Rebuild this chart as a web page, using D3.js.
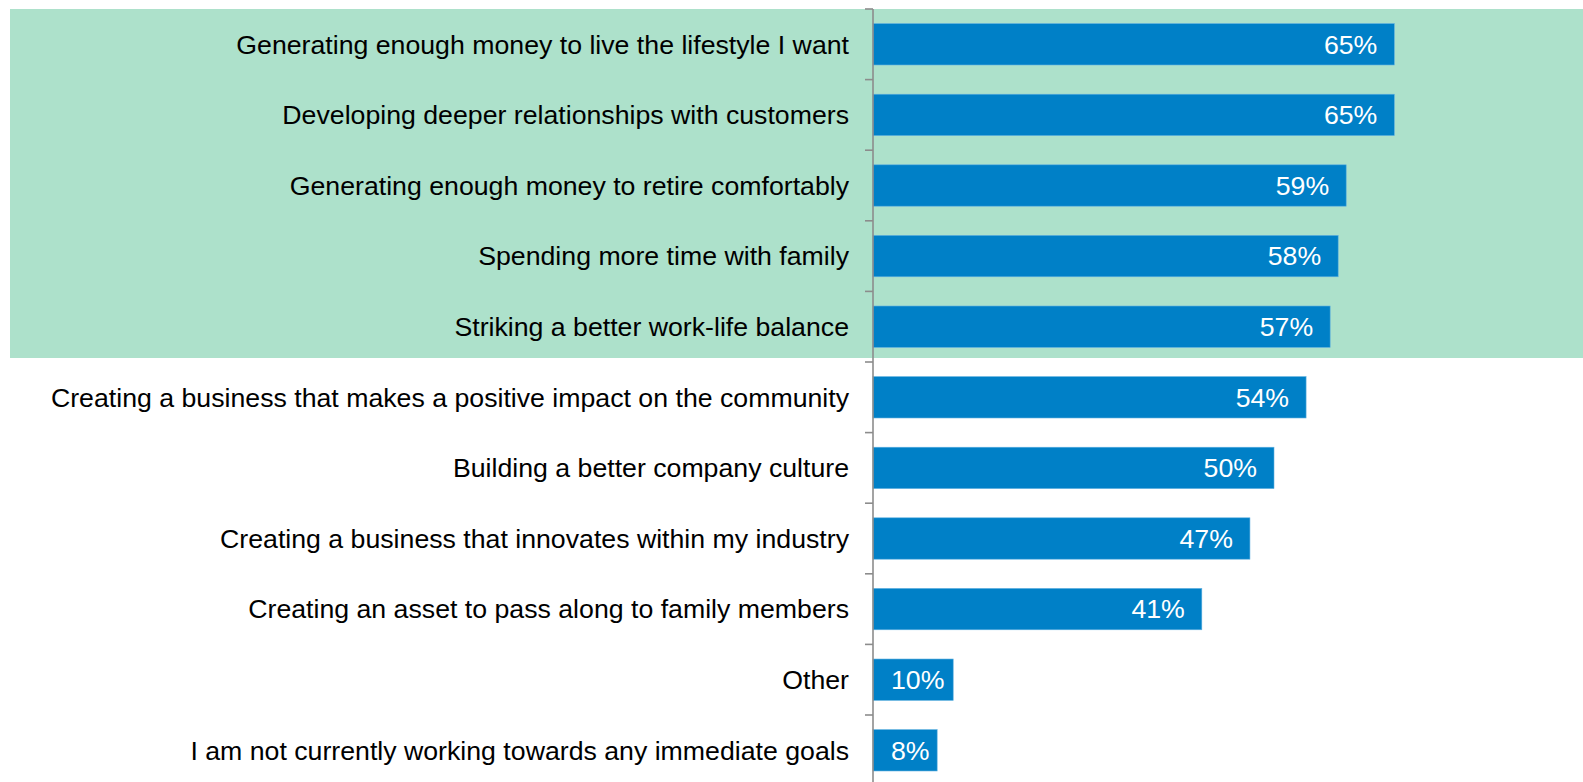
<!DOCTYPE html>
<html>
<head>
<meta charset="utf-8">
<script src="https://cdn.jsdelivr.net/npm/d3@7"></script>
<style>
  html, body { margin: 0; padding: 0; background: #ffffff; }
  svg { display: block; }
</style>
</head>
<body>
<svg id="chart" width="1583" height="782"></svg>
<script>
// Survey responses: goals being worked towards
const categories = [
  "Generating enough money to live the lifestyle I want",
  "Developing deeper relationships with customers",
  "Generating enough money to retire comfortably",
  "Spending more time with family",
  "Striking a better work-life balance",
  "Creating a business that makes a positive impact on the community",
  "Building a better company culture",
  "Creating a business that innovates within my industry",
  "Creating an asset to pass along to family members",
  "Other",
  "I am not currently working towards any immediate goals"
];
const values = [65, 65, 59, 58, 57, 54, 50, 47, 41, 10, 8];
const valueLabels = ["65%", "65%", "59%", "58%", "57%", "54%", "50%", "47%", "41%", "10%", "8%"];
// Top five goals are highlighted
const highlighted = categories.slice(0, 5);

const chartWidth = 1583, chartHeight = 782;
const axisX = 873;
const plotTop = 9, rowStep = 70.6;
const fontSize = "26.7px";

const svg = d3.select("#chart");

const x = d3.scaleLinear().domain([0, 100]).range([axisX, axisX + 802]);
const y = d3.scaleBand()
  .domain(categories)
  .range([plotTop, plotTop + rowStep * categories.length])
  .paddingInner(0.414)
  .paddingOuter(0.207);
// Band layout without padding, used for the tick marks and highlight
const yBand = d3.scaleBand()
  .domain(categories)
  .range([plotTop, plotTop + rowStep * categories.length])
  .padding(0);

// Highlight band behind the top goals
const hlTop = yBand(highlighted[0]);
const hlBottom = yBand(highlighted[highlighted.length - 1]) + yBand.bandwidth() - 4;
svg.append("rect")
  .attr("x", 10)
  .attr("y", hlTop)
  .attr("width", chartWidth - 10)
  .attr("height", hlBottom - hlTop)
  .attr("fill", "#ade1cb");

const font = "'Liberation Sans', Arial, sans-serif";

// Bars
svg.append("g").selectAll("rect")
  .data(values)
  .join("rect")
  .attr("x", x(0))
  .attr("y", (d, i) => y(categories[i]))
  .attr("width", d => x(d) - x(0))
  .attr("height", y.bandwidth())
  .attr("fill", "#0080c7")
  .attr("stroke", "#5fb0e0")
  .attr("stroke-width", 0.6);

// Value labels inside bar ends; short bars keep the label clear of the axis
svg.append("g").selectAll("text")
  .data(values)
  .join("text")
  .attr("y", (d, i) => y(categories[i]) + y.bandwidth() / 2)
  .attr("dy", "0.35em")
  .attr("text-anchor", "start")
  .attr("fill", "#ffffff")
  .style("font-family", font)
  .style("font-size", fontSize)
  .text((d, i) => valueLabels[i])
  .attr("x", function (d) {
    const w = this.getComputedTextLength();
    return Math.max(x(d) - 17 - w, x(0) + 18);
  });

// Category axis
const axis = d3.axisLeft(yBand)
  .tickSize(0)
  .tickFormat("");
const gAxis = svg.append("g")
  .attr("transform", `translate(${axisX},0)`)
  .call(axis);
gAxis.select(".domain").remove();

gAxis.append("line")
  .attr("x1", 0).attr("x2", 0)
  .attr("y1", plotTop).attr("y2", chartHeight)
  .attr("stroke", "#8c8c8c")
  .attr("stroke-width", 1.6);

// Tick marks at category boundaries
const boundaries = categories.map(c => yBand(c)).concat([yBand(categories[categories.length - 1]) + yBand.bandwidth()]);
gAxis.append("g").selectAll("line")
  .data(boundaries)
  .join("line")
  .attr("x1", -8).attr("x2", 0)
  .attr("y1", d => d).attr("y2", d => d)
  .attr("stroke", "#8c8c8c")
  .attr("stroke-width", 1.6);

// Category labels
svg.append("g").selectAll("text")
  .data(categories)
  .join("text")
  .attr("x", axisX - 24)
  .attr("y", d => y(d) + y.bandwidth() / 2)
  .attr("dy", "0.35em")
  .attr("text-anchor", "end")
  .attr("fill", "#000000")
  .style("font-family", font)
  .style("font-size", fontSize)
  .text(d => d);
</script>
</body>
</html>
